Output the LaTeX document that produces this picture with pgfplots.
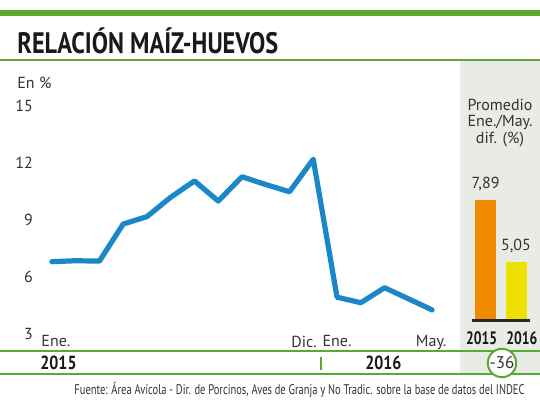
\documentclass[border=0pt]{standalone}
\usepackage{pgfplots}
\pgfplotsset{compat=1.18}
\usepackage{fontspec}
\setmainfont{PT Sans}
\newfontfamily\titlef{PT Sans}[FakeStretch=0.82]
\newfontfamily\condf{PT Sans}[FakeStretch=0.75]
\newfontfamily\boldc{PT Sans}[FakeStretch=0.84]
\newfontfamily\boldb{PT Sans}[FakeStretch=0.76]
\definecolor{cgreen}{HTML}{5AAA32}
\definecolor{cblue}{HTML}{1A87C8}
\definecolor{corange}{HTML}{F08A00}
\definecolor{cyellow}{HTML}{EEE000}
\definecolor{cpanel}{HTML}{E8ECE5}
\definecolor{ctext}{HTML}{333333}
\begin{document}
\begin{tikzpicture}[x=0.5pt,y=0.5pt]
\path[use as bounding box] (0,0) rectangle (540,405);
\fill[white] (0,0) rectangle (540,405);
% top bar
\fill[cgreen] (0,388.5) rectangle (540,395.4);
% panel
\fill[cpanel] (460,31) rectangle (540,345);
% title
\node[anchor=base west, inner sep=0pt, text=black!90] at (17,351.6) {\fontsize{14.8}{16}\selectfont\titlef\bfseries RELACIÓN MAÍZ-HUEVOS};
\draw[cgreen, line width=1pt] (0,345) -- (540,345);
\node[anchor=west, inner sep=0pt, text=ctext] at (17,322.5) {\fontsize{8}{9}\selectfont En \%};
% main axis
\begin{axis}[at={(20pt,35.65pt)}, anchor=south west, scale only axis,
  width=204pt, height=114pt,
  xmin=-0.5, xmax=16.67, ymin=3, ymax=15,
  axis line style={draw=none}, major tick length=0pt,
  ytick={3,6,9,12,15},
  xtick={0.17,10.61,12,15.96},
  xticklabels={Ene.,Dic.,Ene.,May.},
  /pgf/number format/assume math mode=true,
  tick label style={font=\fontsize{8}{9}\selectfont, text=ctext},
  xticklabel style={yshift=2.5pt},
  clip=false]
\addplot[cblue, line width=2.6pt, line join=round, line cap=round] coordinates {
(0,6.79) (1,6.84) (2,6.82) (3,8.77) (4,9.16) (5,10.18) (6,11.04) (7,9.98)
(8,11.26) (9,10.85) (10,10.47) (11,12.18) (12,4.92) (13,4.63) (14,5.42)
(15,4.84) (16,4.25)};
\end{axis}
% bar axis
\begin{axis}[at={(230pt,42.25pt)}, anchor=south west, scale only axis,
  width=40pt, height=66.9pt,
  xmin=-0.836, xmax=1.787, ymin=2.343, ymax=8.5,
  axis line style={draw=none}, major tick length=0pt,
  ytick=\empty, xtick={-0.125,1.19}, xticklabels={2015,2016},
  xticklabel style={font=\fontsize{9}{10}\selectfont\boldb\bfseries, text=black!90, yshift=-2pt},
  ybar, bar width=10.5pt, bar shift=0pt,
  nodes near coords,
  every node near coord/.append style={font=\fontsize{8}{9}\selectfont, text=ctext, yshift=1pt,
    /pgf/number format/use comma, /pgf/number format/fixed, /pgf/number format/fixed zerofill, /pgf/number format/precision=2, /pgf/number format/assume math mode=true},
  clip=false]
\addplot[fill=corange, draw=none] coordinates {(0,7.89)};
\addplot[fill=cyellow, draw=none] coordinates {(1,5.05)};
\draw[black!85, line width=1.3pt] (axis cs:-0.443,2.343) -- (axis cs:1.459,2.343);
\end{axis}
\node[align=center, text=ctext, font=\fontsize{8}{8.4}\selectfont] at (500,282) {Promedio\\Ene./May.\\dif. (\%)};
% bottom lines
\draw[cgreen, line width=1pt] (0,54.3) -- (540,54.3);
\draw[cgreen, line width=1pt] (0,31) -- (540,31);
\node[inner sep=0pt, text=black!90, font=\fontsize{9.5}{10}\selectfont\boldc\bfseries] at (58.5,42) {2015};
\node[inner sep=0pt, text=black!90, font=\fontsize{9.5}{10}\selectfont\boldc\bfseries] at (383.4,42) {2016};
\draw[cgreen, line width=1pt] (320.7,48) -- (320.7,35);
\draw[cgreen, fill=white, line width=1pt] (502,42) circle[radius=7.1pt];
\node[inner sep=0pt, text=ctext, font=\fontsize{8.5}{9}\selectfont] at (502,42) {-36};
\node[anchor=east, inner sep=0pt, text=ctext, font=\fontsize{7}{8}\selectfont\condf] at (525,15) {Fuente: Área Avícola - Dir. de Porcinos, Aves de Granja y No Tradic. sobre la base de datos del INDEC};
\end{tikzpicture}
\end{document}
